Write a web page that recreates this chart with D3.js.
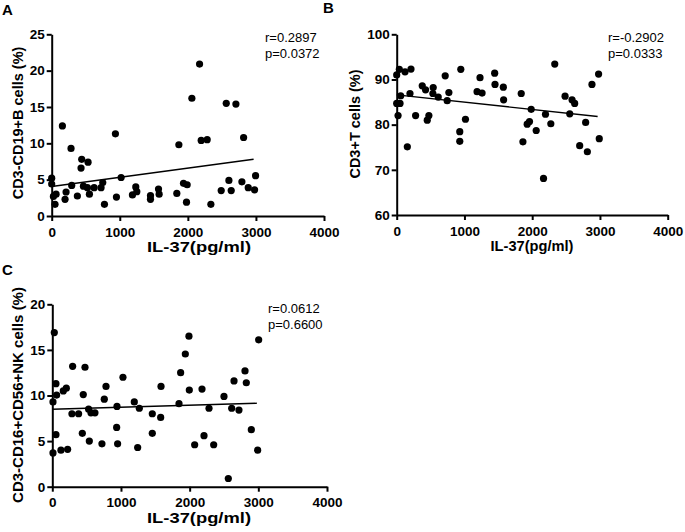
<!DOCTYPE html>
<html>
<head>
<meta charset="utf-8">
<script src="https://cdn.jsdelivr.net/npm/d3@7"></script>
<style>
  body { margin: 0; background: #fff; }
  svg { display: block; font-family: "Liberation Sans", Arial, sans-serif; }
</style>
</head>
<body>
<div id="chart"></div>
<script>
// data: IL-37 (pg/ml) vs lymphocyte subsets (%)
const xTicks = [0, 1000, 2000, 3000, 4000];
const yTicksA = [0, 5, 10, 15, 20, 25];
const yTicksB = [60, 70, 80, 90, 100];
const yTicksC = [0, 5, 10, 15, 20];

const il37A = [0, 0, 25, 64, 49, 157, 211, 196, 284, 294, 377, 441, 431, 534, 466, 525, 554, 623, 725, 750,
  775, 936, 951, 1020, 1186, 1235, 1250, 1451, 1451, 1569, 1578, 1838, 1868, 1936, 1990, 1980, 2059, 2172,
  2196, 2284, 2338, 2490, 2603, 2637, 2564, 2706, 2819, 2794, 2887, 2980, 2995];
const bCells = [5.2, 4.4, 2.7, 3.0, 1.6, 12.4, 3.3, 2.3, 9.3, 4.2, 2.75, 7.8, 6.6, 7.4, 4.1, 3.9, 3.0, 3.9, 3.9, 4.6,
  1.6, 11.3, 2.6, 5.3, 2.9, 4.0, 3.35, 2.8, 2.3, 3.7, 3.0, 3.1, 9.8, 4.5, 4.3, 1.9, 16.2, 20.9,
  10.4, 10.5, 1.6, 3.5, 4.9, 3.5, 15.5, 15.4, 10.8, 4.7, 3.9, 3.6, 5.55];

const il37B = [0, 39, 123, 211, 59, 196, 0, 49, 20, 157, 279, 377, 426, 475, 451, 539, 534, 613, 716, 770, 745,
  946, 931, 931, 1015, 1186, 1260, 1230, 1446, 1451, 1574, 1578, 1838, 1863, 1926, 1960, 1985, 2059, 2167,
  2196, 2275, 2333, 2485, 2588, 2627, 2554, 2701, 2789, 2814, 2882, 2980, 2990];
const tCells = [91.0, 92.25, 91.7, 92.3, 86.4, 86.9, 84.7, 84.7, 82.0, 75.1, 82.0, 88.6, 87.7, 82.0, 81.0, 88.2,
  86.9, 86.1, 90.8, 87.1, 85.3, 92.25, 78.45, 76.3, 81.2, 87.3, 87.0, 90.4, 91.4, 88.9, 88.3, 85.5, 86.9,
  76.2, 80.1, 80.7, 83.4, 78.7, 68.1, 82.3, 80.2, 93.4, 86.3, 85.5, 84.7, 82.4, 75.35, 80.5, 74.0, 88.9,
  91.2, 76.9];

const il37C = [29, 10, 10, 53, 63, 53, 126, 160, 204, 223, 296, 286, 383, 437, 451, 476, 539, 529, 563, 621, 723,
  757, 782, 942, 937, 951, 1029, 1194, 1267, 1243, 1456, 1456, 1578, 1583, 1845, 1869, 1937, 1990, 1995,
  2073, 2180, 2209, 2282, 2350, 2500, 2563, 2612, 2646, 2718, 2806, 2825, 2898, 2990, 3005];
const nkCells = [16.9, 9.3, 3.7, 11.3, 10.05, 5.7, 4.0, 10.5, 10.8, 4.1, 13.2, 8.0, 8.0, 5.85, 10.1, 13.1, 5.0,
  8.5, 8.1, 8.1, 4.7, 9.6, 11.0, 8.8, 6.5, 4.7, 12.0, 9.3, 8.6, 4.3, 8.0, 5.85, 7.6, 11.0, 9.1, 12.5,
  14.55, 16.5, 10.6, 4.6, 10.7, 5.6, 8.6, 4.6, 9.9, 0.9, 8.6, 11.6, 8.4, 12.7, 11.4, 6.25, 4.0, 16.1];

// regression lines (end points)
const fitXA = [0, 2966], fitYA = [4.05, 7.8];
const fitXB = [0, 2966], fitYB = [86.6, 81.8];
const fitXC = [0, 2978], fitYC = [8.5, 9.15];

const statsA = ['r=0.2897', 'p=0.0372'];
const statsB = ['r=-0.2902', 'p=0.0333'];
const statsC = ['r=0.0612', 'p=0.6600'];

const xTitle = 'IL-37(pg/ml)';

const panels = [
  { tag: 'A', xs: il37A, ys: bCells, fx: fitXA, fy: fitYA, stats: statsA, yTicks: yTicksA,
    yTitle: 'CD3-CD19+B cells (%)',
    box: { l: 51.7, r: 324, t: 34.3, b: 216 },
    tagPos: [2, 15], yTitlePos: [23, 123], xTitlePos: [199, 252], xTitleLen: 104, statPos: [265, 42] },
  { tag: 'B', xs: il37B, ys: tCells, fx: fitXB, fy: fitYB, stats: statsB, yTicks: yTicksB,
    yTitle: 'CD3+T cells (%)',
    box: { l: 396.7, r: 667.7, t: 34.3, b: 215 },
    tagPos: [323, 13], yTitlePos: [360, 124], xTitlePos: [532, 251], xTitleLen: 83, statPos: [608, 42] },
  { tag: 'C', xs: il37C, ys: nkCells, fx: fitXC, fy: fitYC, stats: statsC, yTicks: yTicksC,
    yTitle: 'CD3-CD16+CD56+NK cells (%)',
    box: { l: 52.3, r: 327, t: 304.3, b: 486.7 },
    tagPos: [2, 275], yTitlePos: [23, 395], xTitlePos: [199, 523], xTitleLen: 104, statPos: [268, 313] }
];

const svg = d3.select('#chart')
  .append('svg')
  .attr('width', 685)
  .attr('height', 532);

panels.forEach(p => {
  const g = svg.append('g');
  const x = d3.scaleLinear().domain([0, 4000]).range([p.box.l, p.box.r]);
  const y = d3.scaleLinear()
    .domain(d3.extent(p.yTicks))
    .range([p.box.b, p.box.t]);

  // axes
  const xAxis = g.append('g')
    .attr('transform', `translate(0, ${p.box.b})`)
    .call(d3.axisBottom(x).tickValues(xTicks).tickFormat(d3.format('d'))
      .tickSize(5).tickSizeOuter(0).tickPadding(6));
  const yAxis = g.append('g')
    .attr('transform', `translate(${p.box.l}, 0)`)
    .call(d3.axisLeft(y).tickValues(p.yTicks).tickFormat(d3.format('d'))
      .tickSize(5).tickSizeOuter(0).tickPadding(2));

  [xAxis, yAxis].forEach(a => {
    a.select('.domain').attr('stroke', '#000').attr('stroke-width', 2);
    a.selectAll('.tick line').attr('stroke', '#000').attr('stroke-width', 2);
    a.selectAll('.tick text')
      .attr('fill', '#000')
      .style('font-family', '"Liberation Sans", Arial, sans-serif')
      .style('font-size', '13.5px')
      .style('font-weight', 'bold');
  });

  // regression line
  g.append('line')
    .attr('x1', x(p.fx[0])).attr('y1', y(p.fy[0]))
    .attr('x2', x(p.fx[1])).attr('y2', y(p.fy[1]))
    .attr('stroke', '#000')
    .attr('stroke-width', 1.4);

  // points
  g.selectAll('.dot')
    .data(p.xs.map((v, i) => [v, p.ys[i]]))
    .enter()
    .append('circle')
    .attr('class', 'dot')
    .attr('cx', d => x(d[0]))
    .attr('cy', d => y(d[1]))
    .attr('r', 3.6)
    .attr('fill', '#000');

  // titles
  g.append('text')
    .text(p.tag)
    .attr('x', p.tagPos[0])
    .attr('y', p.tagPos[1])
    .style('font-size', '15px')
    .style('font-weight', 'bold');

  g.append('text')
    .text(p.yTitle)
    .attr('text-anchor', 'middle')
    .attr('transform', `translate(${p.yTitlePos[0]}, ${p.yTitlePos[1]}) rotate(-90)`)
    .style('font-size', p.tag === 'C' ? '15px' : '14.5px')
    .style('font-weight', 'bold');

  g.append('text')
    .text(xTitle)
    .attr('text-anchor', 'middle')
    .attr('x', p.xTitlePos[0])
    .attr('y', p.xTitlePos[1])
    .attr('textLength', p.xTitleLen)
    .attr('lengthAdjust', 'spacingAndGlyphs')
    .style('font-size', '14.5px')
    .style('font-weight', 'bold');

  g.selectAll('.stat')
    .data(p.stats)
    .enter()
    .append('text')
    .attr('class', 'stat')
    .text(d => d)
    .attr('x', p.statPos[0])
    .attr('y', (d, i) => p.statPos[1] + i * 16)
    .style('font-size', '13px');
});
</script>
</body>
</html>
